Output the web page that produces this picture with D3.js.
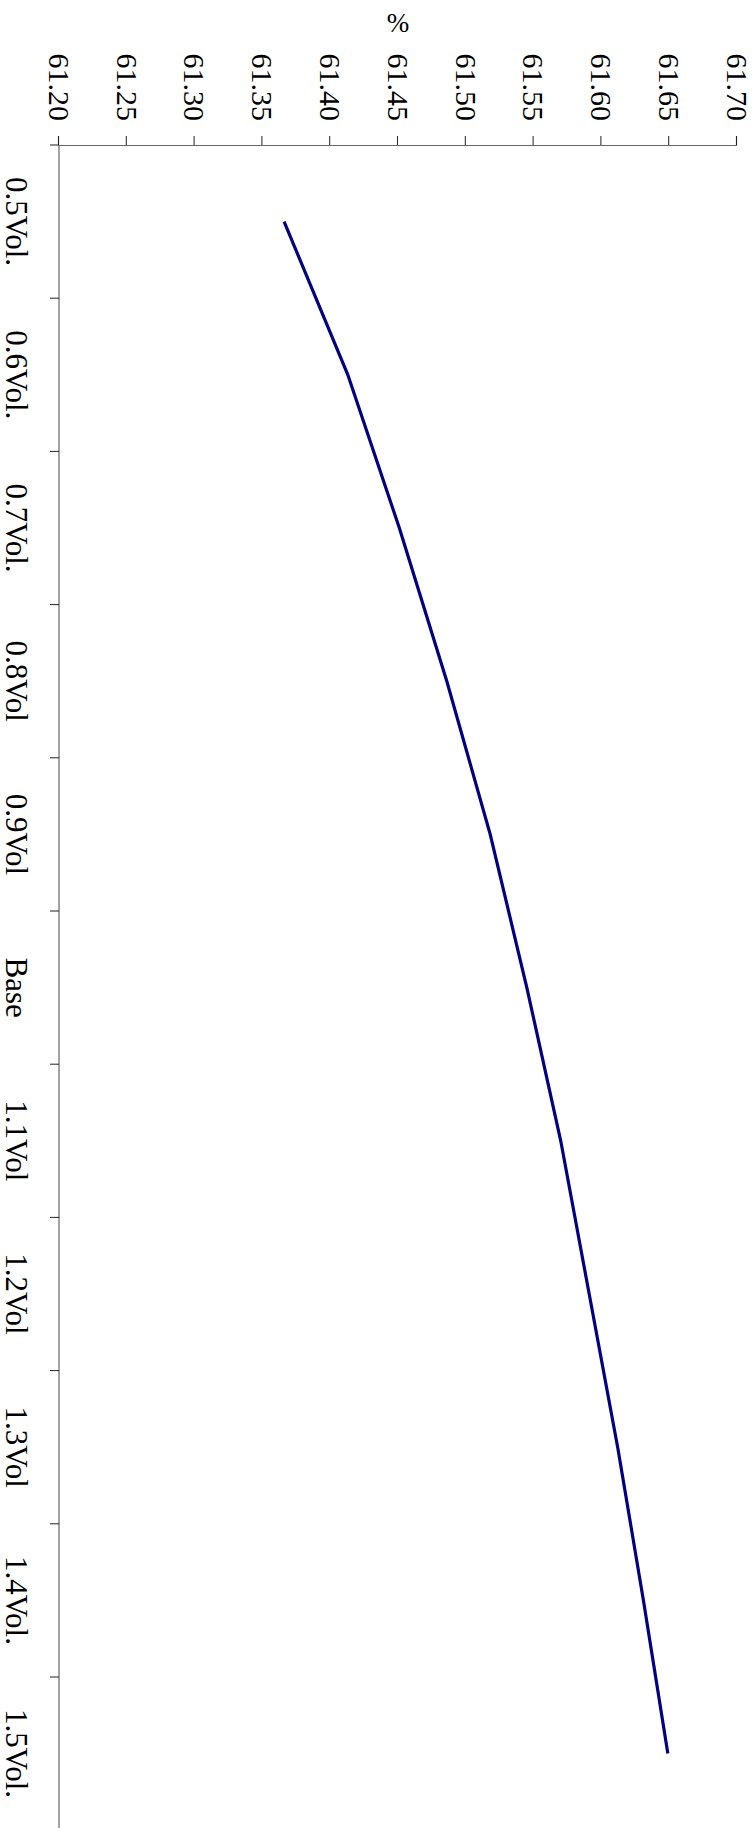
<!DOCTYPE html>
<html>
<head>
<meta charset="utf-8">
<script src="https://cdn.jsdelivr.net/npm/d3@7"></script>
<style>
  body { margin: 0; background: #fff; }
  svg text { font-family: "Liberation Serif", "DejaVu Serif", serif; fill: #000; }
</style>
</head>
<body>
<script>
// Volume sensitivity line chart, drawn turned 90 degrees clockwise

const categories = ["0.5Vol.", "0.6Vol.", "0.7Vol.", "0.8Vol", "0.9Vol", "Base",
                    "1.1Vol", "1.2Vol", "1.3Vol", "1.4Vol.", "1.5Vol."];
const values = [61.366, 61.413, 61.451, 61.486, 61.518, 61.545,
                61.570, 61.591, 61.612, 61.631, 61.649];
const valueTicks = [61.20, 61.25, 61.30, 61.35, 61.40, 61.45, 61.50, 61.55, 61.60, 61.65, 61.70];

const outerWidth = 756;
const outerHeight = 1828;

// the chart is built in its own unrotated frame (long side = x), then turned
const frameW = outerHeight;
const frameH = outerWidth;
const margin = {top: 19, left: 145, bottom: 59};

const svg = d3.select("body").append("svg")
    .attr("width", outerWidth)
    .attr("height", outerHeight);

const chart = svg.append("g")
    .attr("transform", "translate(" + outerWidth + ",0) rotate(90)");

const x = d3.scaleBand()
    .domain(categories)
    .range([margin.left, margin.left + 11 * 153.2])
    .paddingInner(0).paddingOuter(0);

const y = d3.scaleLinear()
    .domain([61.20, 61.70])
    .range([frameH - margin.bottom, margin.top]);

const baseY = y(61.20);

// category axis: line + ticks at band edges
chart.append("line")
    .attr("x1", x.range()[0]).attr("x2", frameW)
    .attr("y1", baseY).attr("y2", baseY)
    .attr("stroke", "#666").attr("stroke-width", 1.2);

const edges = categories.map(d => x(d));
chart.selectAll(".cat-tick")
    .data(edges)
    .enter().append("line")
    .attr("class", "cat-tick")
    .attr("x1", d => d).attr("x2", d => d)
    .attr("y1", baseY).attr("y2", baseY + 9)
    .attr("stroke", "#222").attr("stroke-width", 1);

chart.selectAll(".cat-label")
    .data(categories)
    .enter().append("text")
    .attr("class", "cat-label")
    .attr("x", d => x(d) + x.bandwidth() / 2)
    .attr("y", frameH - 6)
    .attr("text-anchor", "middle")
    .style("font-size", "31px")
    .text(d => d);

// value axis
const yAxis = chart.append("g")
    .attr("transform", "translate(" + margin.left + ",0)")
    .call(d3.axisLeft(y)
        .tickValues(valueTicks)
        .tickFormat(d3.format(".2f"))
        .tickSize(9)
        .tickPadding(15));

yAxis.select(".domain").attr("stroke", "#666").attr("stroke-width", 1.2);
yAxis.selectAll(".tick line").attr("stroke", "#222");
yAxis.selectAll(".tick text")
    .style("font-size", "30px")
    .style("font-family", "Liberation Serif, serif");

// data line
const line = d3.line()
    .x((d, i) => x(categories[i]) + x.bandwidth() / 2)
    .y(d => y(d));

chart.append("path")
    .datum(values)
    .attr("d", line)
    .attr("fill", "none")
    .attr("stroke", "#000080")
    .attr("stroke-width", 3.2);

// axis title stays upright on the page
svg.append("text")
    .attr("x", outerWidth - (y(61.45)))
    .attr("y", 23)
    .attr("text-anchor", "middle")
    .attr("dominant-baseline", "central")
    .style("font-size", "27px")
    .text("%");
</script>
</body>
</html>
